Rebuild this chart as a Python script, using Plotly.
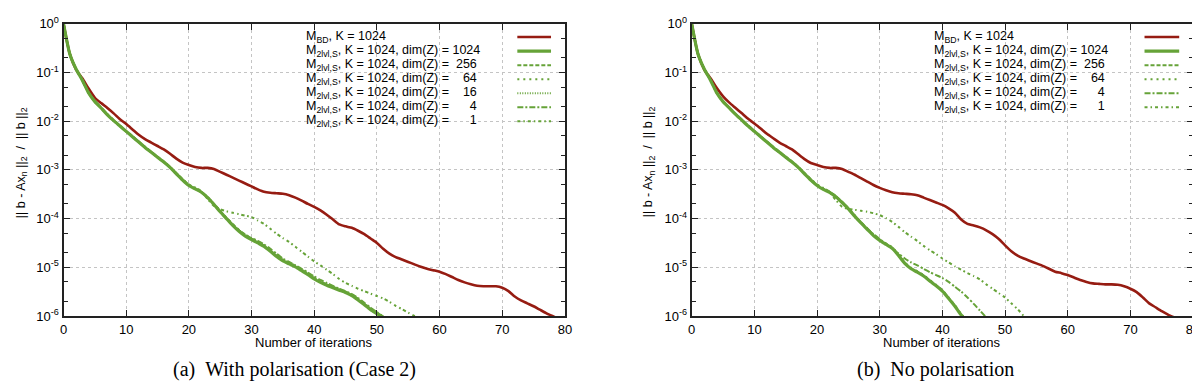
import plotly.graph_objects as go

# residual curves, stored as log10(||b - Ax_n|| / ||b||), one value per iteration (0, 1, 2, ...)

# (a) with polarisation
bd_left = [0, -0.62, -0.94, -1.12, -1.33, -1.52, -1.63, -1.73, -1.84, -1.96, -2.06, -2.17, -2.28, -2.37,
           -2.44, -2.51, -2.58, -2.67, -2.77, -2.85, -2.90, -2.94, -2.96, -2.96, -2.98, -3.04, -3.10, -3.16,
           -3.22, -3.28, -3.34, -3.40, -3.45, -3.47, -3.48, -3.49, -3.52, -3.57, -3.63, -3.70, -3.76, -3.83,
           -3.92, -4.02, -4.12, -4.16, -4.19, -4.25, -4.32, -4.41, -4.50, -4.62, -4.72, -4.79, -4.84, -4.89,
           -4.94, -4.99, -5.03, -5.06, -5.09, -5.14, -5.20, -5.26, -5.31, -5.35, -5.38, -5.39, -5.39, -5.39,
           -5.42, -5.49, -5.60, -5.68, -5.74, -5.80, -5.87, -5.94, -6.00, -6.06]
z1024_left = [0, -0.62, -0.93, -1.16, -1.42, -1.60, -1.73, -1.87, -1.99, -2.10, -2.21, -2.32, -2.43, -2.54,
              -2.64, -2.74, -2.84, -2.95, -3.08, -3.21, -3.32, -3.39, -3.46, -3.57, -3.71, -3.86, -4.00, -4.14,
              -4.26, -4.36, -4.43, -4.50, -4.57, -4.67, -4.78, -4.87, -4.93, -4.99, -5.07, -5.15, -5.24, -5.31,
              -5.37, -5.42, -5.47, -5.52, -5.58, -5.67, -5.77, -5.87, -5.95, -6.03]
z256_left = [0, -0.62, -0.93, -1.15, -1.41, -1.59, -1.73, -1.86, -1.98, -2.10, -2.21, -2.31, -2.42, -2.53,
             -2.63, -2.73, -2.83, -2.94, -3.07, -3.20, -3.31, -3.38, -3.46, -3.57, -3.70, -3.85, -3.99, -4.12,
             -4.24, -4.34, -4.42, -4.49, -4.56, -4.66, -4.77, -4.86, -4.92, -4.98, -5.06, -5.14, -5.23, -5.30,
             -5.36, -5.41, -5.46, -5.51, -5.57, -5.66, -5.76, -5.86, -5.94, -6.02]
z64_left = [0, -0.62, -0.93, -1.15, -1.41, -1.59, -1.72, -1.86, -1.98, -2.09, -2.20, -2.31, -2.42, -2.53,
            -2.63, -2.73, -2.83, -2.94, -3.06, -3.19, -3.30, -3.38, -3.45, -3.56, -3.70, -3.84, -3.98, -4.11,
            -4.23, -4.33, -4.41, -4.48, -4.55, -4.65, -4.76, -4.85, -4.91, -4.97, -5.05, -5.13, -5.22, -5.29,
            -5.35, -5.40, -5.45, -5.50, -5.56, -5.65, -5.75, -5.85, -5.93, -6.01]
z16_left = [0, -0.62, -0.93, -1.16, -1.42, -1.60, -1.73, -1.87, -1.99, -2.10, -2.21, -2.32, -2.43, -2.54,
            -2.64, -2.74, -2.84, -2.95, -3.07, -3.20, -3.31, -3.38, -3.45, -3.56, -3.70, -3.85, -3.99, -4.12,
            -4.24, -4.34, -4.41, -4.48, -4.55, -4.65, -4.76, -4.85, -4.91, -4.97, -5.05, -5.13, -5.22, -5.29,
            -5.35, -5.40, -5.45, -5.50, -5.56, -5.65, -5.75, -5.85, -5.93, -6.01]
z4_left = [0, -0.62, -0.93, -1.16, -1.42, -1.60, -1.73, -1.87, -1.99, -2.10, -2.21, -2.32, -2.43, -2.54,
           -2.64, -2.74, -2.84, -2.95, -3.08, -3.21, -3.32, -3.39, -3.46, -3.57, -3.71, -3.86, -4.00, -4.13,
           -4.24, -4.33, -4.40, -4.46, -4.53, -4.62, -4.72, -4.82, -4.89, -4.96, -5.03, -5.11, -5.19, -5.26,
           -5.32, -5.38, -5.44, -5.49, -5.55, -5.63, -5.73, -5.83, -5.92, -6.01]
z1_left = [0, -0.62, -0.93, -1.16, -1.42, -1.60, -1.73, -1.87, -1.99, -2.10, -2.21, -2.32, -2.43, -2.54,
           -2.64, -2.74, -2.84, -2.95, -3.07, -3.19, -3.30, -3.36, -3.44, -3.60, -3.74, -3.81, -3.85, -3.88,
           -3.91, -3.94, -3.97, -4.04, -4.11, -4.21, -4.31, -4.40, -4.48, -4.58, -4.68, -4.78, -4.88, -4.96,
           -5.05, -5.14, -5.24, -5.32, -5.38, -5.44, -5.49, -5.54, -5.59, -5.64, -5.71, -5.79, -5.86, -5.93,
           -6.00, -6.06]

# (b) no polarisation
bd_right = [0, -0.62, -0.94, -1.12, -1.32, -1.49, -1.62, -1.73, -1.84, -1.95, -2.05, -2.15, -2.26, -2.35,
            -2.44, -2.51, -2.58, -2.68, -2.78, -2.86, -2.90, -2.94, -2.96, -2.96, -2.98, -3.04, -3.10, -3.17,
            -3.24, -3.31, -3.37, -3.42, -3.46, -3.48, -3.49, -3.50, -3.52, -3.57, -3.62, -3.67, -3.72, -3.79,
            -3.88, -4.02, -4.11, -4.14, -4.18, -4.24, -4.32, -4.42, -4.55, -4.67, -4.76, -4.82, -4.87, -4.92,
            -4.97, -5.03, -5.09, -5.12, -5.16, -5.21, -5.26, -5.30, -5.33, -5.34, -5.35, -5.35, -5.36, -5.39,
            -5.44, -5.51, -5.62, -5.74, -5.82, -5.90, -5.97, -6.03]
z1024_right = [0, -0.62, -0.93, -1.16, -1.42, -1.60, -1.73, -1.86, -1.98, -2.10, -2.21, -2.32, -2.43, -2.54,
               -2.64, -2.74, -2.84, -2.95, -3.08, -3.21, -3.32, -3.40, -3.46, -3.55, -3.67, -3.80, -3.95,
               -4.09, -4.22, -4.35, -4.45, -4.53, -4.61, -4.76, -4.92, -5.03, -5.10, -5.18, -5.28, -5.38,
               -5.49, -5.64, -5.80, -5.98, -6.12]
z256_right = [0, -0.62, -0.93, -1.15, -1.41, -1.59, -1.73, -1.86, -1.98, -2.09, -2.20, -2.31, -2.42, -2.53,
              -2.63, -2.73, -2.83, -2.94, -3.07, -3.20, -3.31, -3.39, -3.45, -3.54, -3.66, -3.79, -3.94,
              -4.08, -4.21, -4.34, -4.44, -4.52, -4.60, -4.75, -4.91, -5.02, -5.09, -5.17, -5.27, -5.37,
              -5.48, -5.63, -5.79, -5.97, -6.11]
z64_right = [0, -0.62, -0.93, -1.15, -1.41, -1.59, -1.72, -1.86, -1.98, -2.09, -2.20, -2.31, -2.42, -2.53,
             -2.63, -2.73, -2.83, -2.94, -3.06, -3.19, -3.30, -3.38, -3.45, -3.54, -3.66, -3.79, -3.93,
             -4.07, -4.20, -4.33, -4.43, -4.51, -4.59, -4.74, -4.90, -5.01, -5.08, -5.16, -5.26, -5.36,
             -5.47, -5.62, -5.78, -5.96, -6.10]
z4_right = [0, -0.62, -0.93, -1.16, -1.42, -1.60, -1.73, -1.86, -1.98, -2.10, -2.21, -2.32, -2.43, -2.54,
            -2.64, -2.74, -2.84, -2.95, -3.08, -3.21, -3.32, -3.40, -3.46, -3.55, -3.67, -3.80, -3.95,
            -4.08, -4.20, -4.32, -4.42, -4.52, -4.62, -4.72, -4.82, -4.90, -4.96, -5.03, -5.10, -5.16,
            -5.22, -5.30, -5.40, -5.50, -5.62, -5.75, -5.89, -6.03]
z1_right = [0, -0.62, -0.93, -1.16, -1.42, -1.60, -1.73, -1.86, -1.98, -2.10, -2.21, -2.32, -2.43, -2.54,
            -2.64, -2.74, -2.84, -2.95, -3.07, -3.19, -3.30, -3.37, -3.46, -3.62, -3.76, -3.80, -3.82,
            -3.84, -3.86, -3.89, -3.93, -3.99, -4.07, -4.17, -4.28, -4.37, -4.46, -4.56, -4.65, -4.73,
            -4.82, -4.90, -4.98, -5.05, -5.12, -5.18, -5.25, -5.35, -5.44, -5.53, -5.62, -5.74, -5.86,
            -6.00, -6.10]

legend_left = [
    "M<sub>BD</sub>, K = 1024",
    "M<sub>2lvl,S</sub>, K = 1024, dim(Z) = 1024",
    "M<sub>2lvl,S</sub>, K = 1024, dim(Z) =\u00a0\u00a0256",
    "M<sub>2lvl,S</sub>, K = 1024, dim(Z) =\u00a0\u00a0\u00a0\u00a064",
    "M<sub>2lvl,S</sub>, K = 1024, dim(Z) =\u00a0\u00a0\u00a0\u00a016",
    "M<sub>2lvl,S</sub>, K = 1024, dim(Z) =\u00a0\u00a0\u00a0\u00a0\u00a0\u00a04",
    "M<sub>2lvl,S</sub>, K = 1024, dim(Z) =\u00a0\u00a0\u00a0\u00a0\u00a0\u00a01",
]
legend_right = [legend_left[i] for i in (0, 1, 2, 3, 5, 6)]

RED = "#961c12"
GREEN = "#66a338"
W, H = 1200, 381

styles = {
    "bd": dict(color=RED, width=2.6, dash="solid"),
    "1024": dict(color=GREEN, width=3.2, dash="solid"),
    "256": dict(color=GREEN, width=2, dash="4px,2px"),
    "64": dict(color=GREEN, width=2, dash="2px,4px"),
    "16": dict(color=GREEN, width=2, dash="1px,1.5px"),
    "4": dict(color=GREEN, width=2, dash="6px,2px,2px,2px"),
    "1": dict(color=GREEN, width=2, dash="3px,3px,1.5px,3px"),
}

panels = [
    dict(xa="x", ya="y", x0=52, x1=558, series=[("bd", bd_left), ("1024", z1024_left), ("256", z256_left),
                                                ("64", z64_left), ("16", z16_left), ("4", z4_left),
                                                ("1", z1_left)],
         legend=legend_left, keys=["bd", "1024", "256", "64", "16", "4", "1"],
         text_x=295, samp=(510, 544), box=(289, 12, 556, 117),
         caption="(a)\u2002With polarisation (Case 2)", cap_x=285, ytitle_x=10),
    dict(xa="x2", ya="y2", x0=686, x1=1192, series=[("bd", bd_right), ("1024", z1024_right),
                                                    ("256", z256_right), ("64", z64_right), ("4", z4_right),
                                                    ("1", z1_right)],
         legend=legend_right, keys=["bd", "1024", "256", "64", "4", "1"],
         text_x=929, samp=(1143, 1178), box=(924, 12, 1190, 110),
         caption="(b)\u2002No polarisation", cap_x=932, ytitle_x=643),
]

PLOT_TOP, PLOT_BOTTOM = 7, 313


def px(x):
    return x / W


def py(y):
    return 1 - y / H


fig = go.Figure()
shapes = []
annotations = []

for p in panels:
    for key, vals in p["series"]:
        fig.add_trace(go.Scatter(
            x=list(range(len(vals))), y=[10 ** v for v in vals], mode="lines",
            line=dict(shape="spline", smoothing=0.6, **styles[key]),
            xaxis=p["xa"], yaxis=p["ya"], showlegend=False, hoverinfo="skip"))

    # legend, gnuplot style: text left, sample right, on a white box
    bx0, by0, bx1, by1 = p["box"]
    shapes.append(dict(type="rect", xref="paper", yref="paper", x0=px(bx0), x1=px(bx1), y0=py(by1),
                       y1=py(by0), fillcolor="white", line=dict(width=0), layer="between"))
    for i, (label, key) in enumerate(zip(p["legend"], p["keys"])):
        yrow = 21 + i * 14.7
        annotations.append(dict(text=label, x=px(p["text_x"]), y=py(yrow), xref="paper", yref="paper",
                                xanchor="left", yanchor="middle", showarrow=False,
                                font=dict(family="Liberation Sans", size=12.5, color="black")))
        st = styles[key]
        shapes.append(dict(type="line", xref="paper", yref="paper", x0=px(p["samp"][0]),
                           x1=px(p["samp"][1]), y0=py(yrow), y1=py(yrow), layer="above",
                           line=dict(color=st["color"], width=st["width"], dash=st["dash"])))

    centre = (p["x0"] + p["x1"]) / 2
    annotations.append(dict(text="Number of iterations", x=px(centre), y=py(341), xref="paper", yref="paper",
                            xanchor="center", yanchor="middle", showarrow=False,
                            font=dict(family="Liberation Sans", size=13, color="black")))
    annotations.append(dict(text="|| b - Ax<sub>n</sub> ||<sub>2</sub>  /  || b ||<sub>2</sub>",
                            x=px(p["ytitle_x"]), y=py(152), xref="paper", yref="paper", textangle=-90,
                            xanchor="center", yanchor="middle", showarrow=False,
                            font=dict(family="Liberation Sans", size=12.5, color="black")))
    annotations.append(dict(text=p["caption"], x=px(p["cap_x"]), y=py(369), xref="paper", yref="paper",
                            xanchor="center", yanchor="middle", showarrow=False,
                            font=dict(family="Liberation Serif", size=20, color="black")))

decades = [-6, -5, -4, -3, -2, -1, 0]
ytickvals = [10 ** d for d in decades]
yticktext = [f"10<sup>{d}</sup>" for d in decades]
minor_vals = [m * 10 ** d for d in decades[:-1] for m in (2, 5)]

axis_common = dict(showline=True, linecolor="#222", linewidth=2, mirror="ticks", ticks="inside",
                   ticklen=6, tickcolor="#222", tickwidth=1.2, showgrid=True, gridcolor="#c4c4c4",
                   griddash="dot", gridwidth=1, zeroline=False, ticklabeloverflow="allow",
                   tickfont=dict(family="Liberation Sans", size=13, color="black"))

xaxis = dict(range=[0, 80], tickmode="array", tickvals=[0, 10, 20, 30, 40, 50, 60, 70, 80], **axis_common)
yaxis = dict(type="log", range=[-6.0005, 0.0005], tickmode="array", tickvals=ytickvals, ticktext=yticktext,
             minor=dict(tickmode="array", tickvals=minor_vals, ticks="inside", ticklen=4, tickcolor="#222",
                        tickwidth=1.2, showgrid=False), **axis_common)

fig.update_layout(
    width=W, height=H, margin=dict(l=0, r=0, t=0, b=0),
    paper_bgcolor="white", plot_bgcolor="white",
    xaxis=dict(domain=[px(52), px(558)], anchor="y", **xaxis),
    yaxis=dict(domain=[py(PLOT_BOTTOM), py(PLOT_TOP)], anchor="x", **yaxis),
    xaxis2=dict(domain=[px(686), px(1192)], anchor="y2", **xaxis),
    yaxis2=dict(domain=[py(PLOT_BOTTOM), py(PLOT_TOP)], anchor="x2", **yaxis),
    shapes=shapes, annotations=annotations,
)

fig.write_html("out.html")
